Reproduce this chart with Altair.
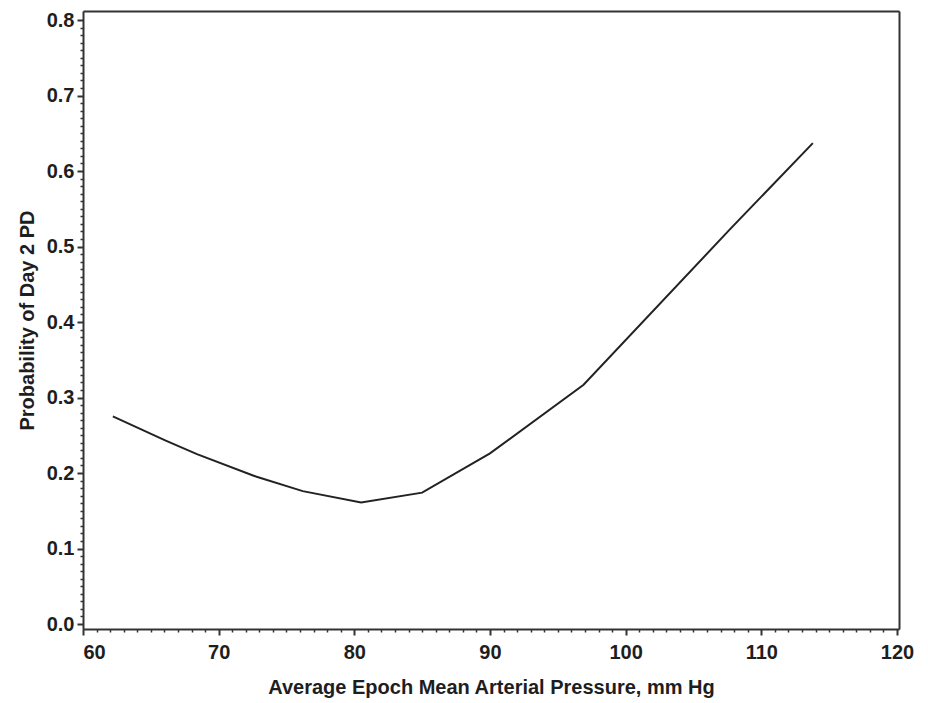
import altair as alt
import pandas as pd

# Data
map_mmhg = [62.2, 66.1, 68.4, 72.8, 76.2, 80.5, 85.0, 90.0, 96.9, 107.7, 113.8]
prob_pd = [0.275, 0.243, 0.225, 0.195, 0.176, 0.161, 0.174, 0.226, 0.317, 0.523, 0.637]

x_major = [60, 70, 80, 90, 100, 110, 120]
x_minor = [v for v in range(60, 121) if v % 10 != 0]
y_major = [round(i * 0.1, 1) for i in range(9)]
y_minor = [round(i * 0.01, 2) for i in range(81) if i % 10 != 0]

df = pd.DataFrame({"x": map_mmhg, "y": prob_pd})

FONT = "Liberation Sans"
TXT = "#1e1e1e"
AX = "#333333"
FS = 20

xscale = alt.Scale(domain=[60, 120.15], nice=False, zero=False)
yscale = alt.Scale(domain=[-0.0066, 0.812], nice=False, zero=False)

minor = alt.Chart(df).mark_line(opacity=0).encode(
    x=alt.X("x:Q", scale=xscale, axis=alt.Axis(
        orient="bottom", values=x_minor, labels=False, title=None, domain=False,
        grid=False, tickSize=3, tickWidth=1.5, tickColor=AX)),
    y=alt.Y("y:Q", scale=yscale, axis=alt.Axis(
        orient="left", values=y_minor, labels=False, title=None, domain=False,
        grid=False, tickSize=3, tickWidth=1.5, tickColor=AX)),
)

frame = alt.Chart(df).mark_line(opacity=0).encode(
    x=alt.X("x:Q", scale=xscale, axis=alt.Axis(
        orient="top", labels=False, ticks=False, title=None, grid=False,
        domainColor=AX, domainWidth=2)),
    y=alt.Y("y:Q", scale=yscale, axis=alt.Axis(
        orient="right", labels=False, ticks=False, title=None, grid=False,
        domainColor=AX, domainWidth=2)),
)

main = alt.Chart(df).mark_line(color="#222222", strokeWidth=2).encode(
    x=alt.X("x:Q", scale=xscale, axis=alt.Axis(
        orient="bottom", values=x_major, format="d",
        title="Average Epoch Mean Arterial Pressure, mm Hg",
        grid=False, tickSize=6, tickWidth=2, tickColor=AX,
        domainColor=AX, domainWidth=2,
        labelFont=FONT, labelFontSize=FS, labelFontWeight="bold", labelColor=TXT,
        labelPadding=7, titleFont=FONT, titleFontSize=FS, titleFontWeight="bold",
        titleColor=TXT, titlePadding=15)),
    y=alt.Y("y:Q", scale=yscale, axis=alt.Axis(
        orient="left", values=y_major, format=".1f",
        title="Probability of Day 2 PD",
        grid=False, tickSize=6, tickWidth=2, tickColor=AX,
        domainColor=AX, domainWidth=2,
        labelFont=FONT, labelFontSize=FS, labelFontWeight="bold", labelColor=TXT,
        labelPadding=3, titleFont=FONT, titleFontSize=FS, titleFontWeight="bold",
        titleColor=TXT, titlePadding=9)),
)

chart = (
    alt.layer(minor, frame, main)
    .resolve_axis(x="independent", y="independent")
    .properties(
        width=816, height=618,
        autosize=alt.AutoSizeParams(type="none"),
        padding={"left": 75, "top": 3, "right": 20, "bottom": 74},
    )
    .configure_view(stroke=None)
    .configure(background="white")
)

chart.save("out.html", embed_options={"renderer": "svg", "actions": False})
